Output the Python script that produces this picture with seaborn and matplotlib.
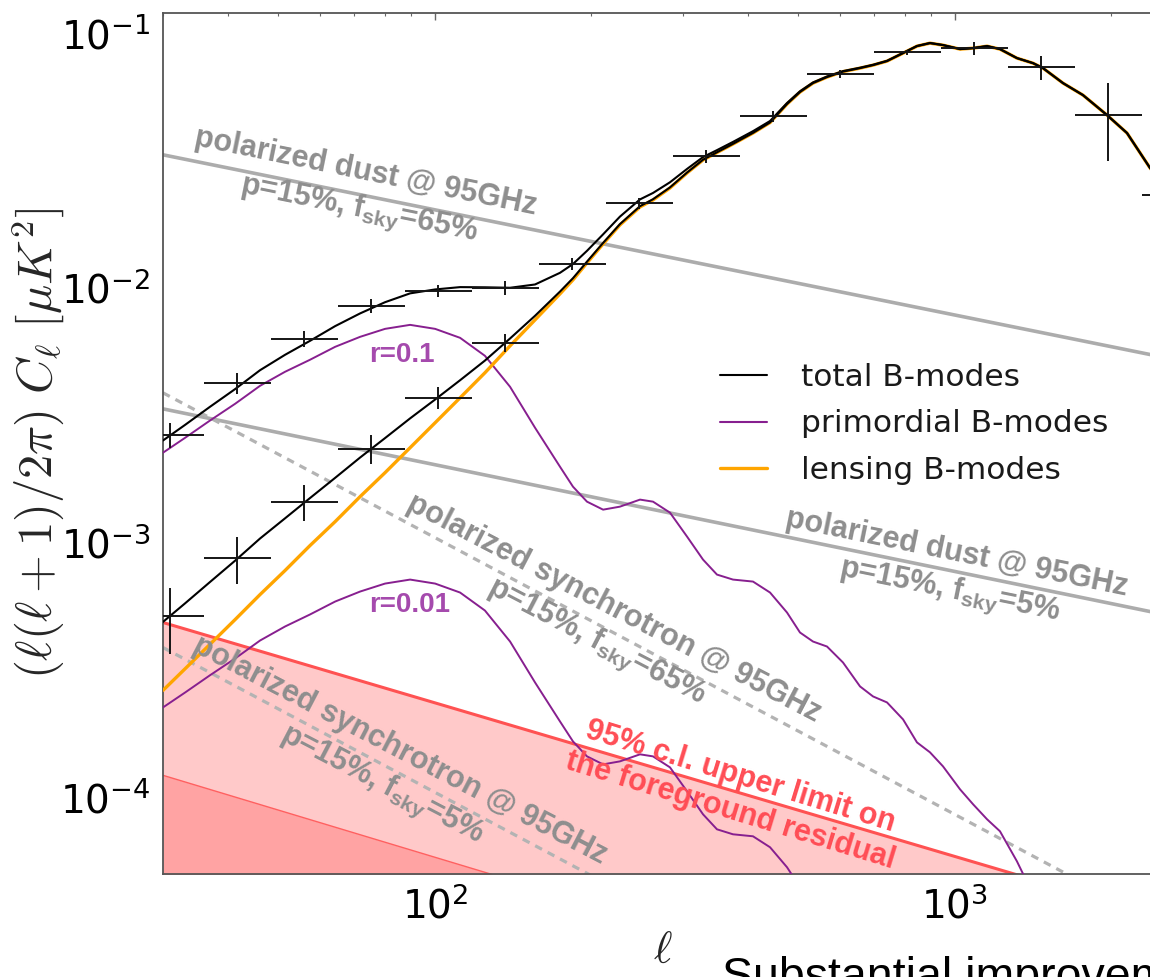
import numpy as np
import pandas as pd
import matplotlib
matplotlib.use("Agg")
import matplotlib.pyplot as plt
from matplotlib.lines import Line2D
import seaborn as sns

# ---------------- data ----------------
ell = [30.0, 33.1, 36.9, 41.3, 46.1, 51.5, 57.5, 64.3, 71.8, 80.2, 89.6, 100.1,
       111.8, 124.8, 139.5, 155.8, 174.0, 184.3, 196.1, 210.6, 226.9, 248.0,
       262.7, 283.2, 305.4, 327.8, 348.7, 374.3, 409.0, 441.1, 475.5, 503.6,
       533.5, 567.6, 609.3, 657.0, 696.0, 740.4, 795.0, 845.4, 895.5, 948.7,
       1023, 1084, 1153, 1221, 1316, 1413, 1477, 1614, 1763, 1961, 2143, 2373,
       2536, 2770]

lensing_bb = [2.63e-4, 3.20e-4, 3.98e-4, 4.99e-4, 6.25e-4, 7.77e-4, 9.73e-4,
              1.209e-3, 1.515e-3, 1.882e-3, 2.358e-3, 2.955e-3, 3.703e-3,
              4.642e-3, 5.922e-3, 7.488e-3, 9.473e-3,
              1.075e-2, 1.253e-2, 1.488e-2, 1.766e-2, 2.078e-2, 2.214e-2,
              2.467e-2, 2.825e-2, 3.177e-2, 3.399e-2, 3.670e-2, 4.053e-2,
              4.457e-2, 5.266e-2, 5.870e-2, 6.366e-2, 6.721e-2, 7.063e-2,
              7.290e-2, 7.490e-2, 7.766e-2, 8.348e-2, 8.892e-2, 9.137e-2,
              8.973e-2, 8.655e-2, 8.733e-2, 8.892e-2, 8.655e-2, 7.980e-2,
              7.625e-2, 7.290e-2, 6.366e-2, 5.713e-2, 4.770e-2, 4.053e-2,
              2.955e-2, 2.534e-2, 1.933e-2]

primordial_r01 = [2.254e-3, 2.581e-3, 3.010e-3, 3.509e-3, 4.126e-3, 4.684e-3,
                  5.220e-3, 5.870e-3, 6.424e-3, 6.905e-3, 7.159e-3, 6.905e-3,
                  6.367e-3, 5.412e-3, 4.089e-3, 2.825e-3, 1.986e-3,
                  1.658e-3, 1.448e-3, 1.347e-3, 1.384e-3, 1.475e-3, 1.448e-3,
                  1.311e-3, 1.056e-3, 8.577e-4, 7.489e-4, 7.159e-4, 7.031e-4,
                  6.367e-4, 5.315e-4, 4.437e-4, 4.089e-4, 3.909e-4, 3.383e-4,
                  2.725e-4, 2.489e-4, 2.358e-4, 2.022e-4, 1.643e-4, 1.502e-4,
                  1.323e-4, 1.075e-4, 9.387e-5, 8.200e-5, 7.356e-5, 5.610e-5,
                  4.164e-5, 3.571e-5, 2.652e-5, 1.933e-5, 1.347e-5, 9.82e-6,
                  6.84e-6, 5.46e-6, 4.16e-6]
r_ratio = 0.1   # r=0.01 spectrum is the r=0.1 spectrum times 0.1

# binned mock band powers
bin_ell = [30.9, 41.6, 56.0, 75.4, 101.4, 136.4, 183.5, 246.9, 332.2, 446.9,
           601.2, 808.9, 1088, 1464, 1970, 2650]
bin_edges = [26.7, 35.9, 48.3, 65.0, 87.5, 117.7, 158.4, 213.1, 286.8, 385.9,
             519.3, 698.7, 940.2, 1265, 1702, 2291, 3083]
upper_bins = [0.00265, 0.00424, 0.00631, 0.0085, 0.00973, 0.0100, 0.01242,
              0.02154, 0.0329, 0.0473, 0.0691, 0.0842, 0.0873, 0.0736, 0.0477,
              0.0232]
upper_relerr = [0.115, 0.094, 0.075, 0.06, 0.055, 0.06, 0.055, 0.05, 0.06,
                0.05, 0.037, 0.023, 0.06, 0.11, 0.34, 0.9]
lower_bins = [5.13e-4, 8.73e-4, 1.45e-3, 2.34e-3, 3.71e-3, 6.08e-3]
lower_relerr = [0.29, 0.21, 0.165, 0.13, 0.10, 0.08]

# foregrounds (power laws, given at the ends of the ell range)
fg_ell = [30, 3000]
dust_65 = [3.33e-2, 4.97e-3]
dust_5 = [3.35e-3, 4.86e-4]
sync_65 = [3.873e-3, 2.594e-5]
sync_5 = [3.873e-4, 2.594e-6]
residual_95 = [4.857e-4, 3.02e-5]
residual_inner = [1.22e-4, 7.18e-6]

# ---------------- style ----------------
sns.set_style("white")
plt.rcParams['font.family'] = ['DejaVu Sans']
plt.rcParams['axes.unicode_minus'] = False
plt.rcParams['mathtext.fontset'] = 'dejavusans'
plt.rcParams['mathtext.bf'] = 'Liberation Sans:bold'
plt.rcParams['mathtext.rm'] = 'Liberation Sans:bold'
plt.rcParams['mathtext.it'] = 'Liberation Sans:bold:italic'
plt.rcParams['mathtext.sf'] = 'Liberation Sans:bold'

fig = plt.figure(figsize=(11.5, 9.77), dpi=100)
ax = fig.add_axes([163 / 1150, 103 / 977, 1040 / 1150, 861 / 977])
ax.set_xscale('log')
ax.set_yscale('log')

lens = np.array(lensing_bb)
prim = np.array(primordial_r01)
total_r01 = lens + prim
total_r001 = lens + r_ratio * prim

GRAY = '#acacac'
PURPLE = '#871f8f'
ORANGE = '#ffa500'

# residual region
ax.fill_between(fg_ell, residual_95, 1e-7, color='#ffc9c9', lw=0, zorder=1)
ax.fill_between(fg_ell, residual_inner, 1e-7, color='#ffa3a3', lw=0, zorder=1.1)
sns.lineplot(x=fg_ell, y=residual_inner, ax=ax, color='#ff6060', lw=1.0,
             zorder=1.2, estimator=None)
sns.lineplot(x=fg_ell, y=residual_95, ax=ax, color='#ff5252', lw=2.2,
             zorder=2, estimator=None)

# foregrounds
for vals in (dust_65, dust_5):
    sns.lineplot(x=fg_ell, y=vals, ax=ax, color=GRAY, lw=2.6, zorder=2,
                 estimator=None)
for vals in (sync_65, sync_5):
    sns.lineplot(x=fg_ell, y=vals, ax=ax, color='#b3b3b3', lw=2.3, zorder=2,
                 estimator=None, linestyle=(0, (2.4, 2.0)))

# spectra
sns.lineplot(x=ell, y=prim, ax=ax, color=PURPLE, lw=1.4, zorder=3, estimator=None)
sns.lineplot(x=ell, y=r_ratio * prim, ax=ax, color=PURPLE, lw=1.4, zorder=3,
             estimator=None)
sns.lineplot(x=ell, y=lens, ax=ax, color=ORANGE, lw=2.4, zorder=3.5, estimator=None)
sns.lineplot(x=ell, y=total_r01, ax=ax, color='black', lw=1.5, zorder=4,
             estimator=None)
sns.lineplot(x=ell, y=total_r001, ax=ax, color='black', lw=1.5, zorder=4,
             estimator=None)

# band powers
edges = np.array(bin_edges)
be = np.array(bin_ell)
xerr = np.vstack([be - edges[:-1], edges[1:] - be])
ub = np.array(upper_bins)
ax.errorbar(be, ub, xerr=xerr, yerr=ub * np.array(upper_relerr), fmt='none',
            ecolor='#151515', elinewidth=1.4, capsize=0, zorder=5)
nl = len(lower_bins)
lb = np.array(lower_bins)
ax.errorbar(be[:nl], lb, xerr=xerr[:, :nl], yerr=lb * np.array(lower_relerr),
            fmt='none', ecolor='#151515', elinewidth=1.4, capsize=0, zorder=5)

ax.set_xlim(30, 3000)
ax.set_ylim(5e-5, 0.12)

# ---------------- annotations ----------------
lab = dict(family='Liberation Sans', weight='bold', fontsize=22,
           ha='center', va='center', rotation_mode='anchor',
           math_fontfamily='custom', linespacing=1.25, zorder=6)
TXT_GRAY = '#8e8e8e'
ax.text(72.4, 0.0238, 'polarized dust @ 95GHz\np=15%, f$_{\\mathbf{sky}}$=65%',
        color=TXT_GRAY, rotation=-11.5, **lab)
ax.text(991, 7.56e-4, 'polarized dust @ 95GHz\np=15%, f$_{\\mathbf{sky}}$=5%',
        color=TXT_GRAY, rotation=-11.5, **lab)
ax.text(212, 4.68e-4, 'polarized synchrotron @ 95GHz\np=15%, f$_{\\mathbf{sky}}$=65%',
        color=TXT_GRAY, rotation=-27.5, **lab)
ax.text(82, 1.29e-4, 'polarized synchrotron @ 95GHz\np=15%, f$_{\\mathbf{sky}}$=5%',
        color=TXT_GRAY, rotation=-27.5, **lab)
ax.text(378, 1.03e-4, '95% c.l. upper limit on\nthe foreground residual',
        color='#ff4d55', rotation=-17, **lab)
ax.text(86.5, 5.46e-3, 'r=0.1', color='#a54aad', family='Liberation Sans',
        weight='bold', fontsize=20, ha='center', va='center', zorder=6)
ax.text(89.6, 5.71e-4, 'r=0.01', color='#a54aad', family='Liberation Sans',
        weight='bold', fontsize=20, ha='center', va='center', zorder=6)

# legend
handles = [Line2D([], [], color='black', lw=1.5),
           Line2D([], [], color=PURPLE, lw=1.5),
           Line2D([], [], color=ORANGE, lw=2.4)]
leg = ax.legend(handles, ['total B-modes', 'primordial B-modes', 'lensing B-modes'],
                loc='center left', bbox_to_anchor=(720 / 1150, 1 - 424 / 977),
                bbox_transform=fig.transFigure, frameon=False, fontsize=22.5,
                handlelength=1.5, handletextpad=1.1, labelspacing=0.55,
                borderpad=0, borderaxespad=0)
for t in leg.get_texts():
    t.set_color('#1a1a1a')

# axes styling
for s in ax.spines.values():
    s.set_color('#555555')
    s.set_linewidth(1.3)
ax.tick_params(which='both', direction='in', top=True, right=True,
               colors='#666666', labelcolor='black')
ax.tick_params(which='major', length=5, width=1.0, labelsize=28, pad=9)
ax.tick_params(which='minor', length=2.5, width=0.8)

ax.set_ylabel(r'$(\ell(\ell+1)/2\pi)\ C_\ell\ [\mu K^2]$', fontsize=35,
              math_fontfamily='cm')
ax.yaxis.set_label_coords(-0.092, 0.5)
ax.set_xlabel(r'$\ell$', fontsize=32, math_fontfamily='cm')
ax.xaxis.set_label_coords(0.481, -0.064)

fig.text(722 / 1150, 1 - 990 / 977, 'Substantial improvement',
         family='Liberation Sans', fontsize=33.5, ha='left', va='baseline',
         color='black')

fig.savefig('out.png', dpi=100)
